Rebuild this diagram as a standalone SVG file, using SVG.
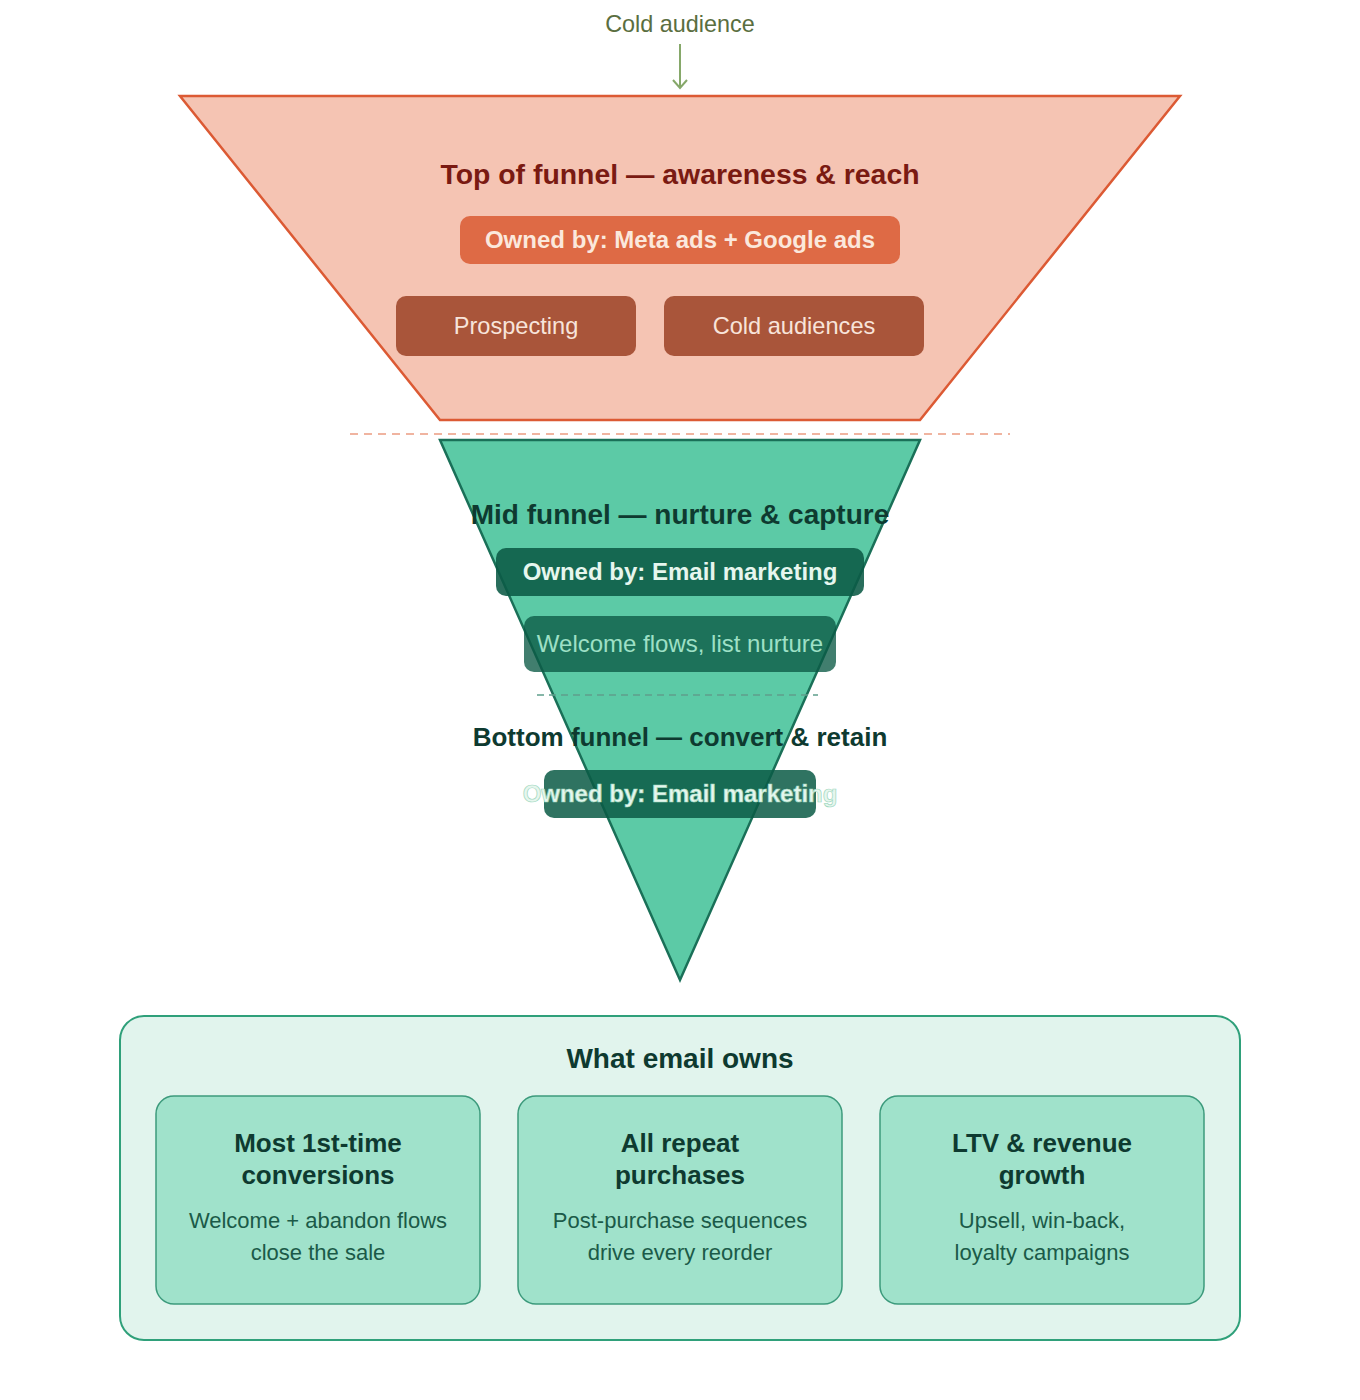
<svg xmlns="http://www.w3.org/2000/svg" width="1360" height="1400" viewBox="0 0 1360 1400">
<defs>
<marker id="arr" markerWidth="16" markerHeight="16" refX="14" refY="8" orient="auto" markerUnits="userSpaceOnUse" viewBox="0 0 16 16">
<path d="M6,1 L14,8 L6,15" fill="none" stroke="#86a86a" stroke-width="2"/>
</marker>
<style>
text{font-family:"Liberation Sans",Arial,sans-serif;text-anchor:middle}
.b{font-weight:bold}
.title{font-size:28px;font-weight:bold;fill:#0e3a30}
.ct{font-size:26px;font-weight:bold;fill:#0e3a30}
.cs{font-size:22px;fill:#1b5a48}
.card{fill:#a0e2cb;stroke:#3c9a7c;stroke-width:1.5}
.gpill{fill:#0b5a45}
</style>
</defs>
<rect width="1360" height="1400" fill="#ffffff"/>
<g id="connectors">
<text x="680" y="32" font-size="23.4" fill="#5a6e40">Cold audience</text>
<line x1="680" y1="44" x2="680" y2="88" stroke="#86a86a" stroke-width="2" marker-end="url(#arr)"/>
<line x1="350" y1="434" x2="1010" y2="434" stroke="#f0b4a0" stroke-width="1.8" stroke-dasharray="8,6"/>
</g>
<g id="top-funnel">
<polygon points="180,96 1180,96 920,420 440,420" fill="#f5c4b3" stroke="#dc5a34" stroke-width="2.5"/>
<text x="680" y="184" class="b" font-size="28.4" fill="#7a1a12">Top of funnel — awareness &amp; reach</text>
<rect x="460" y="216" width="440" height="48" rx="10" fill="#de6a45"/>
<text x="680" y="248" class="b" font-size="24" fill="#fbe8dc">Owned by: Meta ads + Google ads</text>
<rect x="396" y="296" width="240" height="60" rx="10" fill="#a9553a"/>
<text x="516" y="334" font-size="23.6" fill="#f8e4da">Prospecting</text>
<rect x="664" y="296" width="260" height="60" rx="10" fill="#a9553a"/>
<text x="794" y="334" font-size="23.6" fill="#f8e4da">Cold audiences</text>
</g>
<g id="green-funnel">
<polygon points="440,440 920,440 680,980" fill="#5ccaa6" stroke="#1a7058" stroke-width="2.5" stroke-linejoin="miter"/>
</g>
<g id="mid-funnel">
<text x="680" y="524" class="title">Mid funnel — nurture &amp; capture</text>
<rect x="496" y="548" width="368" height="48" rx="10" class="gpill" opacity="0.88"/>
<text x="680" y="580" class="b" font-size="24" fill="#e6f6ee">Owned by: Email marketing</text>
<rect x="524" y="616" width="312" height="56" rx="10" class="gpill" opacity="0.78"/>
<text x="680" y="652" font-size="24" fill="#9ee0c6">Welcome flows, list nurture</text>
<line x1="537" y1="695" x2="818" y2="695" stroke="#5f9e8c" stroke-width="1.5" stroke-dasharray="7,5"/>
</g>
<g id="bottom-funnel">
<text x="680" y="746" class="b" font-size="26" fill="#0e3a30">Bottom funnel — convert &amp; retain</text>
<rect x="544" y="770" width="272" height="48" rx="10" class="gpill" opacity="0.85"/>
<text x="680" y="802" class="b" font-size="24" fill="#e6f6ee" stroke="#9fd8bf" stroke-width="0.7">Owned by: Email marketing</text>
</g>
<g id="email-owns">
<rect x="120" y="1016" width="1120" height="324" rx="24" fill="#e1f4ed" stroke="#2fa07a" stroke-width="2"/>
<text x="680" y="1068" class="title">What email owns</text>
</g>
<g id="card-1">
<rect x="156" y="1096" width="324" height="208" rx="18" class="card"/>
<text x="318" y="1152" class="ct">Most 1st-time</text>
<text x="318" y="1184" class="ct">conversions</text>
<text x="318" y="1228" class="cs">Welcome + abandon flows</text>
<text x="318" y="1260" class="cs">close the sale</text>
</g>
<g id="card-2">
<rect x="518" y="1096" width="324" height="208" rx="18" class="card"/>
<text x="680" y="1152" class="ct">All repeat</text>
<text x="680" y="1184" class="ct">purchases</text>
<text x="680" y="1228" class="cs">Post-purchase sequences</text>
<text x="680" y="1260" class="cs">drive every reorder</text>
</g>
<g id="card-3">
<rect x="880" y="1096" width="324" height="208" rx="18" class="card"/>
<text x="1042" y="1152" class="ct">LTV &amp; revenue</text>
<text x="1042" y="1184" class="ct">growth</text>
<text x="1042" y="1228" class="cs">Upsell, win-back,</text>
<text x="1042" y="1260" class="cs">loyalty campaigns</text>
</g>
</svg>
